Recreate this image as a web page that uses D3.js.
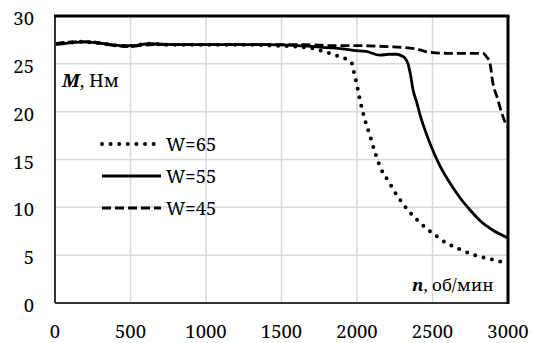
<!DOCTYPE html>
<html>
<head>
<meta charset="utf-8">
<script src="https://cdn.jsdelivr.net/npm/d3@7"></script>
<style>
  body { margin: 0; background: #fff; }
</style>
</head>
<body>
<script>
const FONT = "'Noto Serif', 'DejaVu Serif', serif";
const FS = 18.5;

const xTicks = [0, 500, 1000, 1500, 2000, 2500, 3000];
const yTicks = [0, 5, 10, 15, 20, 25, 30];

// [n, M]
const w65 = [
  [0, 27.1], [90, 27.2], [185, 27.3], [318, 27.1], [420, 26.9], [500, 26.85],
  [609, 27.1], [750, 27.0], [900, 27.0], [1100, 27.0], [1300, 27.0],
  [1450, 26.9], [1600, 26.8], [1710, 26.6], [1800, 26.2], [1875, 25.8],
  [1940, 25.4], [1965, 25.1], [1980, 24.1], [1995, 23.1], [2020, 21.2],
  [2053, 19.1], [2086, 17.5], [2120, 15.7], [2163, 13.9], [2205, 12.8],
  [2263, 11.3], [2338, 9.7], [2417, 8.4], [2517, 7.1], [2600, 6.2],
  [2660, 5.75], [2781, 5.0], [2880, 4.6], [2958, 4.3], [2990, 4.2]
];
const w55 = [
  [0, 27.0], [100, 27.2], [200, 27.3], [330, 27.1], [450, 26.9], [520, 26.9],
  [620, 27.1], [800, 27.0], [1000, 27.0], [1200, 27.0], [1400, 27.0],
  [1600, 26.9], [1800, 26.7], [1888, 26.6], [1975, 26.4], [2060, 26.3],
  [2152, 25.9], [2210, 26.0], [2263, 26.0], [2300, 25.8], [2318, 25.6],
  [2338, 25.0], [2355, 23.8], [2371, 22.3], [2395, 21.0], [2417, 19.7],
  [2450, 18.1], [2483, 16.7], [2550, 14.3], [2605, 12.8], [2682, 11.0],
  [2750, 9.7], [2815, 8.6], [2900, 7.6], [3000, 6.8]
];
const w45 = [
  [0, 27.1], [120, 27.3], [240, 27.3], [350, 27.0], [480, 26.8], [560, 26.9],
  [650, 27.0], [850, 27.0], [1050, 27.0], [1250, 27.0], [1450, 27.0],
  [1650, 27.0], [1850, 26.9], [2000, 26.9], [2200, 26.8], [2380, 26.6],
  [2483, 26.2], [2600, 26.1], [2750, 26.1], [2834, 26.1], [2858, 25.75],
  [2881, 25.0], [2900, 23.0], [2930, 21.4], [2958, 19.9], [2990, 18.6],
  [3000, 18.4]
];

const series = [
  { name: "W=65", data: w65, dash: "0 8.6", width: 4, cap: "round" },
  { name: "W=55", data: w55, dash: null, width: 2.8, cap: "butt" },
  { name: "W=45", data: w45, dash: "9 4", width: 2.8, cap: "butt" }
];

const W = 533, H = 343;
const m = { left: 55, right: 25, top: 16, bottom: 40 };

const svg = d3.select("body").append("svg")
  .attr("width", W)
  .attr("height", H)
  .attr("font-family", FONT)
  .style("font-family", FONT);

const x = d3.scaleLinear().domain([0, 3000]).range([m.left, W - m.right]);
const y = d3.scaleLinear().domain([0, 30]).range([H - m.bottom, m.top]);

// grid
svg.append("g")
  .selectAll("line")
  .data(xTicks.slice(1, -1))
  .enter().append("line")
  .attr("x1", d => x(d)).attr("x2", d => x(d))
  .attr("y1", y(0)).attr("y2", y(30))
  .attr("stroke", "#d9d9d9").attr("stroke-width", 1.5);

svg.append("g")
  .selectAll("line")
  .data(yTicks.slice(1, -1))
  .enter().append("line")
  .attr("x1", x(0)).attr("x2", x(3000))
  .attr("y1", d => y(d)).attr("y2", d => y(d))
  .attr("stroke", "#d9d9d9").attr("stroke-width", 1.5);

// tick labels
svg.append("g")
  .selectAll("text")
  .data(yTicks)
  .enter().append("text")
  .attr("x", 34)
  .attr("y", d => y(d) + 9)
  .attr("text-anchor", "end")
  .attr("font-size", FS)
  .text(d => d);

svg.append("g")
  .selectAll("text")
  .data(xTicks)
  .enter().append("text")
  .attr("x", d => x(d))
  .attr("y", 338)
  .attr("text-anchor", "middle")
  .attr("font-size", FS)
  .text(d => d);

// axis titles
const mt = svg.append("text").attr("x", 62).attr("y", 87).attr("font-size", FS);
mt.append("tspan").attr("font-weight", "bold").attr("font-style", "italic").text("M");
mt.append("tspan").text(", Нм");

const nt = svg.append("text").attr("x", 412).attr("y", 291).attr("font-size", 17);
nt.append("tspan").attr("font-weight", "bold").attr("font-style", "italic").text("n");
nt.append("tspan").text(", об/мин");

// curves
const line = d3.line().x(d => x(d[0])).y(d => y(d[1])).curve(d3.curveMonotoneX);

svg.append("defs").append("clipPath").attr("id", "clip")
  .append("rect")
  .attr("x", x(0)).attr("y", y(30))
  .attr("width", x(3000) - x(0)).attr("height", y(0) - y(30));

svg.append("g").attr("clip-path", "url(#clip)")
  .selectAll("path")
  .data(series)
  .enter().append("path")
  .attr("d", s => line(s.data))
  .attr("fill", "none")
  .attr("stroke", "#000")
  .attr("stroke-width", s => s.width)
  .attr("stroke-linecap", s => s.cap)
  .attr("stroke-dasharray", s => s.dash);

// frame
svg.append("line")
  .attr("x1", x(0)).attr("x2", x(0)).attr("y1", y(0)).attr("y2", y(30))
  .attr("stroke", "#333").attr("stroke-width", 2);
svg.append("line")
  .attr("x1", x(0)).attr("x2", x(3000)).attr("y1", y(0)).attr("y2", y(0))
  .attr("stroke", "#333").attr("stroke-width", 2);
svg.append("line")
  .attr("x1", x(0) - 1).attr("x2", x(3000) + 1.5).attr("y1", y(30)).attr("y2", y(30))
  .attr("stroke", "#000").attr("stroke-width", 3);
svg.append("line")
  .attr("x1", x(3000)).attr("x2", x(3000)).attr("y1", y(30)).attr("y2", y(0) + 1)
  .attr("stroke", "#000").attr("stroke-width", 3);

// legend
const leg = svg.append("g")
  .selectAll("g")
  .data(series)
  .enter().append("g")
  .attr("transform", (s, i) => `translate(0, ${144 + i * 32})`);

leg.append("line")
  .attr("x1", 102).attr("x2", 161)
  .attr("stroke", "#000")
  .attr("stroke-width", s => s.width)
  .attr("stroke-linecap", s => s.cap)
  .attr("stroke-dasharray", s => s.dash);

leg.append("text")
  .attr("x", 166)
  .attr("y", 6.5)
  .attr("font-size", FS)
  .text(s => s.name);
</script>
</body>
</html>
